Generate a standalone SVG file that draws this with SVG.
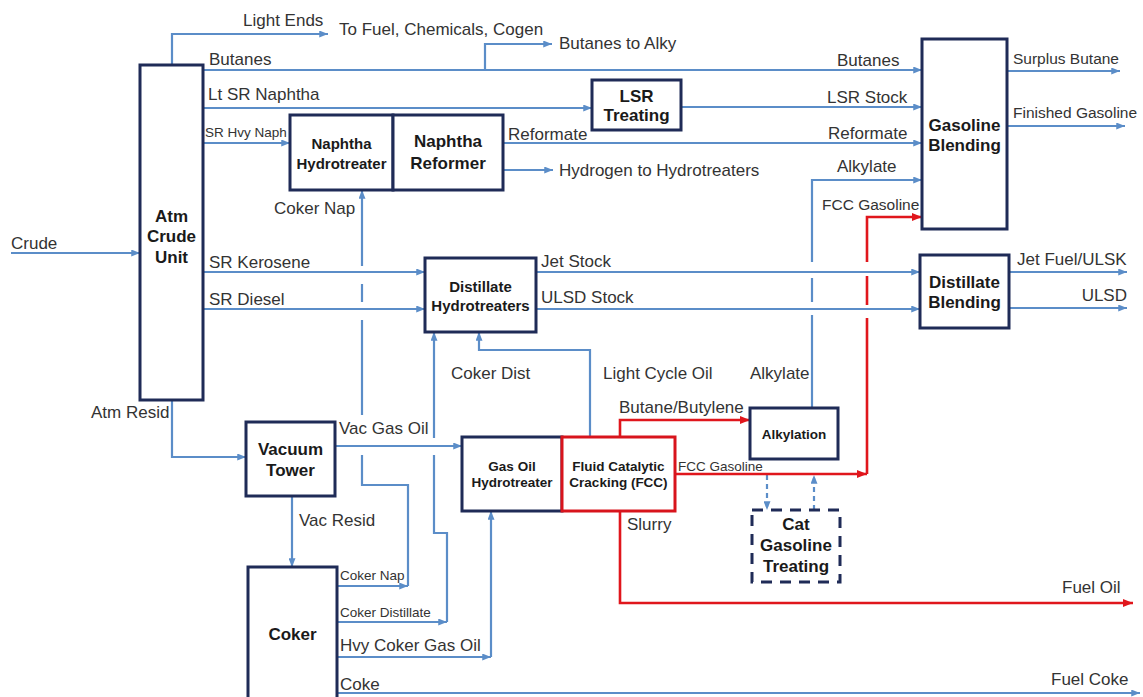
<svg xmlns="http://www.w3.org/2000/svg" width="1143" height="697" viewBox="0 0 1143 697">
<defs>
<style>
.bx{fill:#fff;stroke:#1f2b57;stroke-width:3}
.rbx{fill:none;stroke:#d8141c;stroke-width:3}
.dbx{fill:#fff;stroke:#1f2b57;stroke-width:3;stroke-dasharray:11 8}
.ln{fill:none;stroke:#5b8dc8;stroke-width:2.2}
.dl{fill:none;stroke:#5b8dc8;stroke-width:2.2;stroke-dasharray:5 4}
.rl{fill:none;stroke:#e0161c;stroke-width:2.6}
.a{marker-end:url(#ab)}
.ar{marker-end:url(#ar)}
text{font-family:"Liberation Sans",Arial,sans-serif;fill:#333}
.t{font-size:17px}
.s{font-size:13.5px}
.m{font-size:15.5px}
.b{font-weight:bold;font-size:17px;fill:#1a1a1a;text-anchor:middle}
.bs{font-weight:bold;font-size:15px;fill:#1a1a1a;text-anchor:middle}
.bxs{font-weight:bold;font-size:13.5px;fill:#1a1a1a;text-anchor:middle}
</style>
<marker id="ab" viewBox="0 0 10 8" refX="10" refY="4" markerWidth="9" markerHeight="7" orient="auto" markerUnits="userSpaceOnUse"><path d="M0,0 L10,4 L0,8 z" fill="#5b8dc8"/></marker>
<marker id="ar" viewBox="0 0 10 8" refX="10" refY="4" markerWidth="10" markerHeight="8" orient="auto" markerUnits="userSpaceOnUse"><path d="M0,0 L10,4 L0,8 z" fill="#e0161c"/></marker>
</defs>
<rect width="1143" height="697" fill="#fff"/>
<g id="connectors">
<path class="ln a" d="M11,253 H140"/>
<path class="ln a" d="M172,65 V34 H328"/>
<path class="ln a" d="M203,70 H922"/>
<path class="ln a" d="M485,70 V44 H552"/>
<path class="ln a" d="M203,108 H592"/>
<path class="ln a" d="M681,107 H922"/>
<path class="ln a" d="M203,143 H290"/>
<path class="ln a" d="M503,143 H922"/>
<path class="ln a" d="M503,170 H553"/>
<path class="ln a" d="M1007,71 H1120"/>
<path class="ln a" d="M1007,126 H1125"/>
<path class="ln a" d="M203,272 H425"/>
<path class="ln a" d="M203,309 H425"/>
<path class="ln a" d="M536,272 H920"/>
<path class="ln a" d="M536,309 H920"/>
<path class="ln a" d="M1009,272 H1127"/>
<path class="ln a" d="M1009,308 H1127"/>
<path class="ln a" d="M172,400 V457 H246"/>
<path class="ln a" d="M335,446 H462"/>
<path class="ln a" d="M292,496 V567"/>
<path class="ln a" d="M337,586 H408"/>
<path class="ln" d="M408,586 V485 H362 V455"/>
<path class="ln" d="M362,415 V320"/>
<path class="ln" d="M362,302 V284"/>
<path class="ln a" d="M362,266 V190"/>
<path class="ln a" d="M337,622 H447"/>
<path class="ln" d="M447,622 V533 H434 V455"/>
<path class="ln a" d="M434,438 V332"/>
<path class="ln a" d="M337,657 H491"/>
<path class="ln a" d="M491,657 V511"/>
<path class="ln a" d="M337,693 H1140"/>
<path class="ln a" d="M590,437 V350 H479 V332"/>
<path class="ln" d="M812,408 V315"/>
<path class="ln" d="M812,302 V278"/>
<path class="ln a" d="M812,262 V180 H922"/>
<path class="dl a" d="M767,475 V510"/>
<path class="dl a" d="M814,510 V475"/>
<path class="rl ar" d="M620,437 V420 H750"/>
<path class="rl ar" d="M675,474 H867"/>
<path class="rl" d="M867,474 V318"/>
<path class="rl" d="M867,305 V276"/>
<path class="rl ar" d="M867,262 V217 H922"/>
<path class="rl ar" d="M620,511 V603 H1133"/>
</g>
<g id="labels">
<text class="t" x="243" y="26">Light Ends</text>
<text class="t" x="339" y="35">To Fuel, Chemicals, Cogen</text>
<text class="t" x="559" y="49">Butanes to Alky</text>
<text class="t" x="209" y="65">Butanes</text>
<text class="t" x="208" y="100">Lt SR Naphtha</text>
<text class="s" x="205" y="137">SR Hvy Naph</text>
<text class="t" x="508" y="140">Reformate</text>
<text class="t" x="559" y="176">Hydrogen to Hydrotreaters</text>
<text class="t" x="837" y="66">Butanes</text>
<text class="t" x="827" y="103">LSR Stock</text>
<text class="t" x="828" y="139">Reformate</text>
<text class="t" x="837" y="172">Alkylate</text>
<text class="m" x="822" y="210">FCC Gasoline</text>
<text class="m" x="1013" y="64">Surplus Butane</text>
<text class="m" x="1013" y="118">Finished Gasoline</text>
<text class="t" x="274" y="214">Coker Nap</text>
<text class="t" x="11" y="249">Crude</text>
<text class="t" x="209" y="268">SR Kerosene</text>
<text class="t" x="209" y="305">SR Diesel</text>
<text class="t" x="541" y="267">Jet Stock</text>
<text class="t" x="541" y="303">ULSD Stock</text>
<text class="t" x="1017" y="265">Jet Fuel/ULSK</text>
<text class="t" x="1127" y="301" text-anchor="end">ULSD</text>
<text class="t" x="451" y="379">Coker Dist</text>
<text class="t" x="603" y="379">Light Cycle Oil</text>
<text class="t" x="750" y="379">Alkylate</text>
<text class="t" x="91" y="418">Atm Resid</text>
<text class="t" x="339" y="434">Vac Gas Oil</text>
<text class="t" x="619" y="413">Butane/Butylene</text>
<text class="s" x="678" y="471">FCC Gasoline</text>
<text class="t" x="299" y="526">Vac Resid</text>
<text class="t" x="627" y="530">Slurry</text>
<text class="s" x="340" y="580">Coker Nap</text>
<text class="s" x="340" y="617">Coker Distillate</text>
<text class="t" x="340" y="651">Hvy Coker Gas Oil</text>
<text class="t" x="340" y="690">Coke</text>
<text class="t" x="1062" y="593">Fuel Oil</text>
<text class="t" x="1051" y="685">Fuel Coke</text>
</g>
<g id="atm-crude-unit"><rect class="bx" x="140" y="65" width="63" height="335"/><text class="b" x="171.5" y="222">Atm</text><text class="b" x="171.5" y="242">Crude</text><text class="b" x="171.5" y="263">Unit</text></g>
<g id="naphtha-hydrotreater"><rect class="bx" x="290" y="115" width="103" height="75"/><text class="bs" x="341.5" y="149">Naphtha</text><text class="bs" x="341.5" y="169">Hydrotreater</text></g>
<g id="naphtha-reformer"><rect class="bx" x="393" y="115" width="110" height="75"/><text class="b" x="448" y="147">Naphtha</text><text class="b" x="448" y="169">Reformer</text></g>
<g id="lsr-treating"><rect class="bx" x="592" y="80" width="89" height="50"/><text class="b" x="636.5" y="102">LSR</text><text class="b" x="636.5" y="121">Treating</text></g>
<g id="gasoline-blending"><rect class="bx" x="922" y="39" width="85" height="190"/><text class="b" x="964.5" y="131">Gasoline</text><text class="b" x="964.5" y="151">Blending</text></g>
<g id="distillate-hydrotreaters"><rect class="bx" x="425" y="258" width="111" height="74"/><text class="bs" x="480.5" y="292">Distillate</text><text class="bs" x="480.5" y="311">Hydrotreaters</text></g>
<g id="distillate-blending"><rect class="bx" x="920" y="255" width="89" height="73"/><text class="b" x="964.5" y="288">Distillate</text><text class="b" x="964.5" y="308">Blending</text></g>
<g id="vacuum-tower"><rect class="bx" x="246" y="422" width="89" height="74"/><text class="b" x="290.5" y="455">Vacuum</text><text class="b" x="290.5" y="476">Tower</text></g>
<g id="coker"><rect class="bx" x="248" y="567" width="89" height="140"/><text class="b" x="292.5" y="640">Coker</text></g>
<g id="gas-oil-hydrotreater"><rect class="bx" x="462" y="437" width="100" height="74"/><text class="bxs" x="512" y="471">Gas Oil</text><text class="bxs" x="512" y="487">Hydrotreater</text></g>
<g id="fcc"><rect class="bx" x="562" y="437" width="113" height="74" style="stroke:#d8141c"/><text class="bxs" x="618.5" y="471">Fluid Catalytic</text><text class="bxs" x="618.5" y="487">Cracking (FCC)</text></g>
<g id="alkylation"><rect class="bx" x="750" y="408" width="88" height="51"/><text class="bxs" x="794" y="439">Alkylation</text></g>
<g id="cat-gasoline-treating"><rect class="dbx" x="752" y="510" width="88" height="72"/><text class="b" x="796" y="530">Cat</text><text class="b" x="796" y="551">Gasoline</text><text class="b" x="796" y="572">Treating</text></g>
</svg>
